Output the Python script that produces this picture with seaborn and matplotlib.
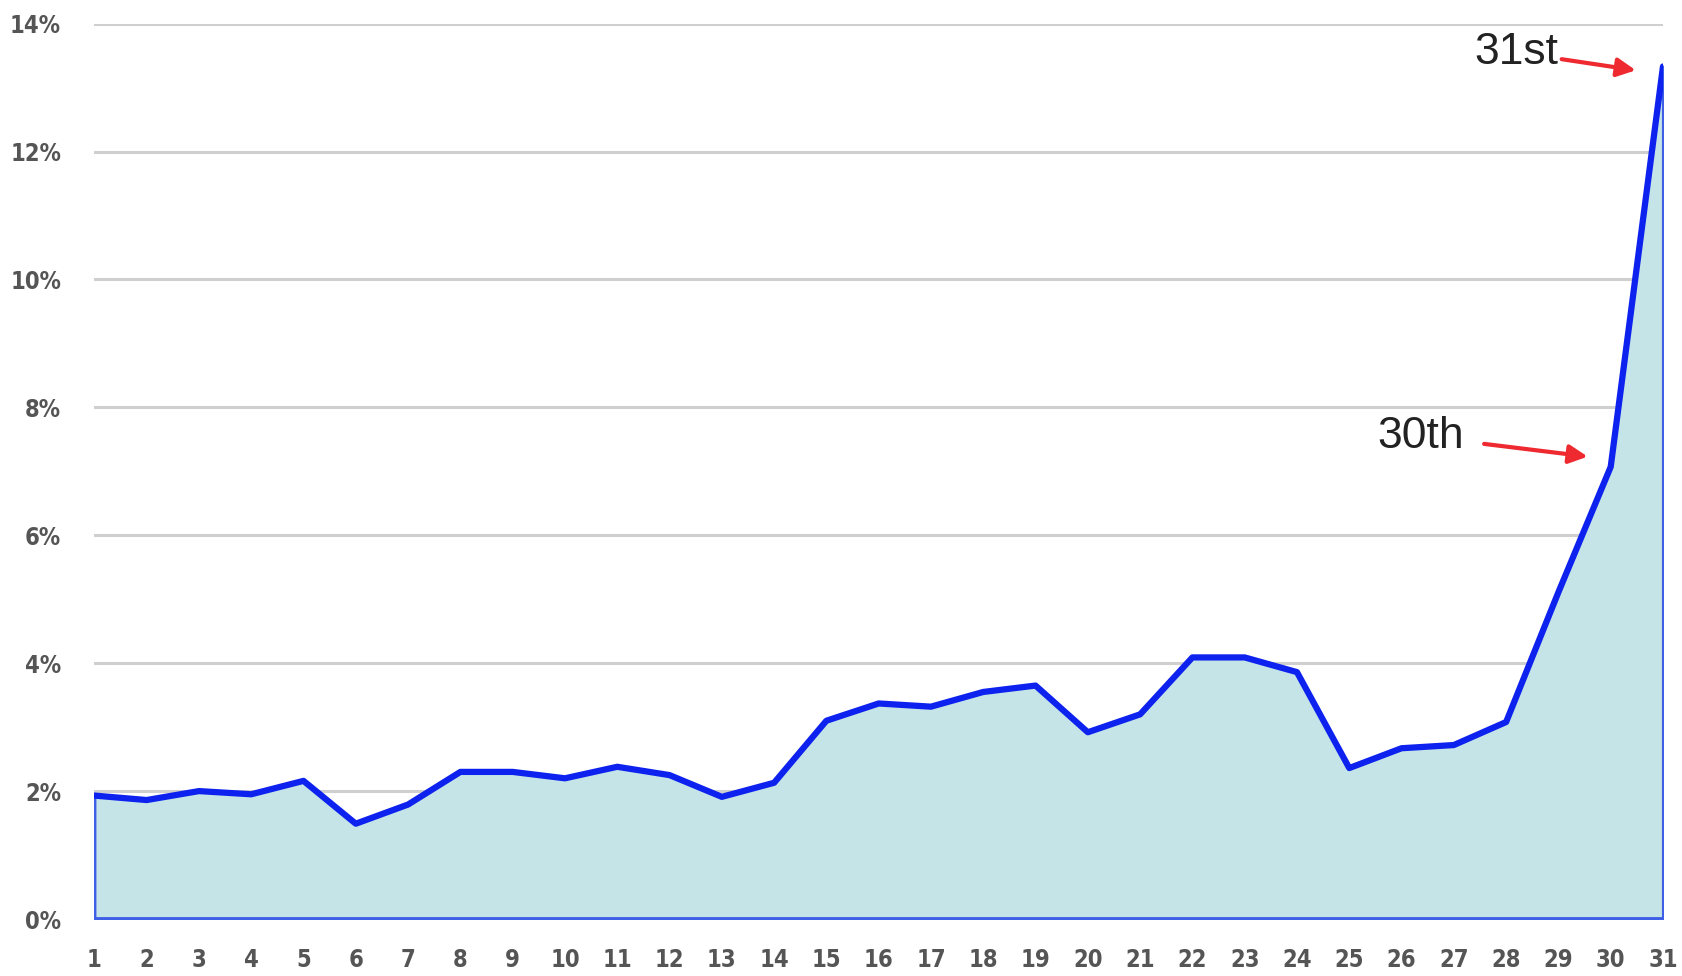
import matplotlib
matplotlib.use("Agg")
import matplotlib.pyplot as plt
import seaborn as sns
import pandas as pd

# day of month and share of the total (percent)
days = list(range(1, 32))
share = [1.93, 1.86, 2.00, 1.95, 2.16, 1.49, 1.79, 2.30, 2.30, 2.20,
         2.38, 2.25, 1.91, 2.13, 3.10, 3.37, 3.32, 3.55, 3.65, 2.92,
         3.20, 4.09, 4.09, 3.86, 2.36, 2.67, 2.72, 3.08, 5.11, 7.07,
         13.33]
y_ticks = [0, 2, 4, 6, 8, 10, 12, 14]
y_tick_labels = [f"{t}%" for t in y_ticks]

df = pd.DataFrame({"day": days, "share": share})

sns.set_style("white")
plt.rcParams['font.family'] = ['Liberation Sans', 'DejaVu Sans']

fig = plt.figure(figsize=(16.82, 9.76), dpi=100)
ax = fig.add_axes([0.0561, 0.0584, 0.9326, 0.9174])

# area under the curve with a thin outline
ax.fill_between(df["day"], 0, df["share"], facecolor="#c5e4e8",
                edgecolor="#3f5fe6", linewidth=2.2, zorder=2)
ax.plot([days[0], days[0]], [0, share[0]], color="#3f5fe6", lw=2.2, zorder=3)
ax.plot([days[-1], days[-1]], [0, share[-1]], color="#3f5fe6", lw=2.2, zorder=3)
ax.plot([days[0], days[-1]], [0, 0], color="#3f5fe6", lw=3.5, zorder=3)

sns.lineplot(data=df, x="day", y="share", ax=ax, color="#0d22ee",
             linewidth=4.5, zorder=4)

ax.set_xlim(1, 31)
ax.set_ylim(0, 14)
ax.set_xticks(days)
ax.set_xticklabels([str(d) for d in days])
ax.set_yticks(y_ticks)
ax.set_yticklabels(y_tick_labels)
ax.yaxis.grid(True, color="#cfcfcf", linewidth=2.2, zorder=1)
ax.set_axisbelow(True)
ax.set_xlabel("")
ax.set_ylabel("")
for s in ax.spines.values():
    s.set_visible(False)

ax.tick_params(axis="x", length=5, width=1, color="#cccccc", pad=16,
               labelcolor="#555555")
ax.tick_params(axis="y", length=0, pad=24, labelcolor="#555555")
for lbl in ax.get_xticklabels() + ax.get_yticklabels():
    lbl.set_family(['DejaVu Sans'])
    lbl.set_fontstretch("condensed")
    lbl.set_fontweight("bold")
    lbl.set_fontsize(17)

# callouts for the last two days
ax.annotate("31st", xy=(30.48, 13.27), xytext=(29.0, 13.55),
            fontsize=32, ha="right", va="center", color="#222222",
            arrowprops=dict(arrowstyle="-|>", color="#ee2a30", lw=3,
                            mutation_scale=28, shrinkA=0, shrinkB=0))
ax.annotate("30th", xy=(29.56, 7.23), xytext=(27.2, 7.55),
            fontsize=32, ha="right", va="center", color="#222222",
            arrowprops=dict(arrowstyle="-|>", color="#ee2a30", lw=3,
                            mutation_scale=28, shrinkA=12, shrinkB=0))

fig.savefig("out.png", dpi=100)
